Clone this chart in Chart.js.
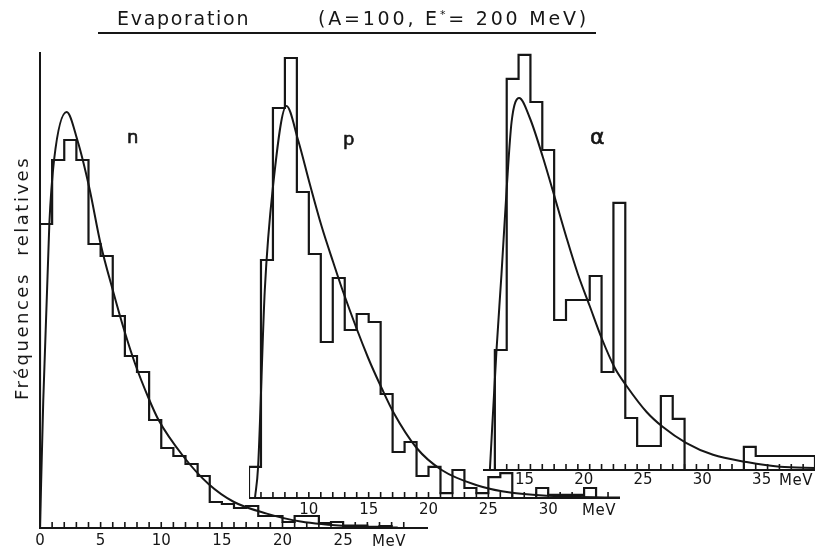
<!DOCTYPE html>
<html><head><meta charset="utf-8">
<script src="https://cdn.jsdelivr.net/npm/chart.js@4.4.1/dist/chart.umd.min.js"></script>
<style>
html,body{margin:0;padding:0;background:#fff;}
#wrap{position:relative;width:819px;height:551px;overflow:hidden;background:#fff;font-family:"DejaVu Sans",sans-serif;color:#161616;}
canvas{position:absolute;left:0;top:0;}
.t{position:absolute;white-space:nowrap;line-height:1;}
</style></head><body>
<div id="wrap">
<canvas id="cn" width="819" height="551"></canvas>
<canvas id="cp" width="819" height="551"></canvas>
<canvas id="ca" width="819" height="551"></canvas>
<div class="t" style="left:117px;top:9px;font-size:19px;letter-spacing:1.7px">Evaporation</div>
<div class="t" style="left:318px;top:9px;font-size:19px;letter-spacing:2.8px">(A=100, E<span style="position:relative;top:-7px;font-size:11px">*</span>= 200 MeV)</div>
<div style="position:absolute;left:98px;top:32px;width:498px;height:2px;background:#161616"></div>
<div class="t" style="left:22px;top:278px;font-size:18px;letter-spacing:2.5px;transform:translate(-50%,-50%) rotate(-90deg)">Fréquences&nbsp; relatives</div>
<div class="t" style="left:127px;top:128px;font-size:18px;-webkit-text-stroke:0.6px #161616">n</div>
<div class="t" style="left:343px;top:130px;font-size:18px;-webkit-text-stroke:0.6px #161616">p</div>
<div class="t" style="left:590px;top:126px;font-size:22px;-webkit-text-stroke:0.6px #161616">α</div>
<div class="t" style="left:372px;top:534px;font-size:15px;letter-spacing:0.5px">MeV</div>
<div class="t" style="left:582px;top:503px;font-size:15px;letter-spacing:0.5px">MeV</div>
<div class="t" style="left:779px;top:473px;font-size:15px;letter-spacing:0.5px">MeV</div>
</div>
<script>
const INK = '#161616';

// ---- n (neutrons): 1-MeV bins starting at 0 MeV ----
const nFirstEdge = 0;
const nCounts = [76,92,97,92,71,68,53,43,39,27,20,18,16,13,6.5,6,5,5.5,3,3,1.5,3,3,1.2,1.5,0.6,0.6,0.3,0.5];
const nCurveE = [0,0.27,0.77,1.16,2.2,3.08,4.07,5.0,6.0,6.94,7.85,8.95,9.78,11.8,13.9,16,18.7,21.5,25.6,29.5];
const nCurveF = [0,32,76,92,104,97,85,71,59.5,49.5,41,32.5,27,18,11,6.5,3.6,1.6,0.4,0.1];
const nTickLabels = [0,5,10,15,20,25];
const nMinorTicks = [1,2,3,4,5,6,7,8,9,10,11,12,13,14,15,16,17,18,19,20,21,22,23,24,25,26,27,28,29,30];

// ---- p (protons): 1-MeV bins starting at 5 MeV ----
const pFirstEdge = 5;
const pCounts = [7.8,59.5,97.5,110,76.5,61,39,55,42,46,44,26,11.5,14,5.5,7.8,1.2,7,2.5,1.2,5.2,6.2,0,0,2.5,0.8,0.8,0.8,2.5];
const pCurveE = [5.5,5.76,6.32,7.01,8.13,9.1,10.08,11.06,12.03,12.87,14.96,16.08,17.05,19.01,21.1,24.03,26.96,32.1,36.0];
const pCurveF = [0,7.8,52,78,98,89.5,78.5,68,59,51.5,35,27.5,21.5,12.5,7,3.2,1.3,0.3,0.1];
const pTickLabels = [10,15,20,25,30];
const pMinorTicks = [6,7,8,9,10,11,12,13,14,15,16,17,18,19,20,21,22,23,24,25,26,27,28,29,30,31,32,33,34,35];

// ---- alpha: 1-MeV bins starting at 12.5 MeV ----
const aFirstEdge = 12.5;
const aCounts = [30,97.8,103.8,92,80,37.5,42.5,42.5,48.5,24.5,66.8,13,6,6,18.5,12.8,0,0,0,0,0,5.8,3.5,3.5,3.5,3.5,3.5];
const aCurveE = [12.08,12.64,13.06,13.49,13.91,14.55,15.45,16.57,17.42,18.55,19.5,20.5,21.5,22.62,23.61,25.3,26.65,28.62,30.9,33.74,36.55,39.65];
const aCurveF = [0,30,49,70,87,93,88,78,69.5,58,49,41,33,25.5,21,14.5,10.8,6.8,3.8,2,0.8,0.5];
const aTickLabels = [15,20,25,30,35];
const aMinorTicks = [12.5,13.5,14.5,15.5,16.5,17.5,18.5,19.5,20.5,21.5,22.5,23.5,24.5,25.5,26.5,27.5,28.5,29.5,30.5,31.5,32.5,33.5,34.5,35.5,36.5,37.5,38.5];

function histPoints(first, counts) {
  const pts = [{x: first, y: 0}, {x: first, y: counts[0]}];
  counts.forEach((c, i) => pts.push({x: first + i + 1, y: i + 1 < counts.length ? counts[i + 1] : 0}));
  return pts;
}

const axisPlugin = {
  id: 'axisMarks',
  afterDatasetsDraw(chart, args, o) {
    const ctx = chart.ctx, xs = chart.scales.x, ys = chart.scales.y;
    const y0 = ys.getPixelForValue(0);
    ctx.save();
    ctx.strokeStyle = INK;
    ctx.lineWidth = 2;
    ctx.beginPath();
    ctx.moveTo(xs.getPixelForValue(xs.min), y0);
    ctx.lineTo(xs.getPixelForValue(xs.max), y0);
    if (o.yAxis) {
      const x = xs.getPixelForValue(xs.min);
      ctx.moveTo(x, y0 + 1);
      ctx.lineTo(x, ys.getPixelForValue(ys.max));
    }
    ctx.stroke();
    ctx.lineWidth = 1.6;
    ctx.beginPath();
    o.minor.forEach(v => {
      const x = xs.getPixelForValue(v);
      ctx.moveTo(x, y0);
      ctx.lineTo(x, y0 - o.len);
    });
    ctx.stroke();
    ctx.restore();
  }
};

function makeChart(id, c) {
  return new Chart(document.getElementById(id), {
    type: 'line',
    data: { datasets: [
      { data: histPoints(c.first, c.counts), stepped: 'before', borderColor: INK, borderWidth: 2.2, pointRadius: 0, fill: false },
      { data: c.curveE.map((e, i) => ({x: e, y: c.curveF[i]})), borderColor: INK, borderWidth: 2, pointRadius: 0, fill: false, cubicInterpolationMode: 'monotone' }
    ]},
    options: {
      responsive: false, animation: false, devicePixelRatio: 1, events: [],
      layout: { padding: c.pad },
      plugins: { legend: {display: false}, tooltip: {enabled: false}, title: {display: false},
                 axisMarks: { minor: c.minor, len: 6, yAxis: c.yAxis } },
      scales: {
        x: { type: 'linear', min: c.xmin, max: c.xmax,
             afterFit: s => { s.height = 20; },
             afterBuildTicks: s => { s.ticks = c.labels.map(v => ({value: v})); },
             grid: {display: false, drawTicks: false}, border: {display: false},
             ticks: { autoSkip: false, maxRotation: 0, padding: c.lpad, color: INK,
                      font: {family: 'DejaVu Sans', size: 15}, callback: v => String(v) } },
        y: { type: 'linear', min: 0, max: c.ymax, display: false }
      }
    },
    plugins: [axisPlugin]
  });
}

makeChart('cn', { first: nFirstEdge, counts: nCounts, curveE: nCurveE, curveF: nCurveF, labels: nTickLabels, minor: nMinorTicks,
  xmin: 0, xmax: 32, ymax: 119, pad: {left: 40, right: 391, top: 52, bottom: 3}, lpad: 4, yAxis: true });
makeChart('cp', { first: pFirstEdge, counts: pCounts, curveE: pCurveE, curveF: pCurveF, labels: pTickLabels, minor: pMinorTicks,
  xmin: 5, xmax: 36, ymax: 111.5, pad: {left: 249, right: 199, top: 52, bottom: 33}, lpad: 3, yAxis: false });
makeChart('ca', { first: aFirstEdge, counts: aCounts, curveE: aCurveE, curveF: aCurveF, labels: aTickLabels, minor: aMinorTicks,
  xmin: 11.5, xmax: 39.5, ymax: 104.5, pad: {left: 483, right: 4, top: 52, bottom: 61}, lpad: 1, yAxis: false });
</script>
</body></html>
